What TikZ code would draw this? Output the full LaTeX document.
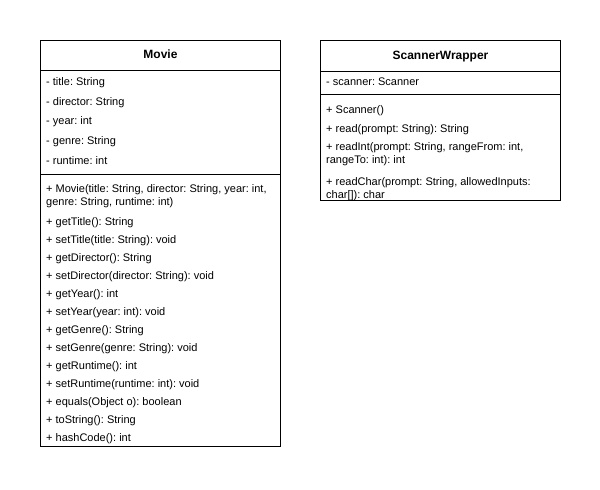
\documentclass[tikz,border=0pt]{standalone}
\usepackage{fontspec}
\setmainfont{Liberation Sans}
\frenchspacing
\begin{document}
\begin{tikzpicture}[x=1pt,y=-1pt,
  box/.style={draw=black,line width=1pt},
  sep/.style={draw=black,line width=1pt},
  member/.style={anchor=mid west,inner sep=0pt,yshift=-1.5pt,font=\fontsize{11}{13}\selectfont\frenchspacing},
  title/.style={anchor=mid,inner sep=0pt,yshift=-1pt,font=\fontsize{12}{14}\selectfont\bfseries}]
\useasboundingbox[fill=white] (0,0) rectangle (600,490);
% Movie
\draw[box] (40.5,40.5) rectangle (280.5,446.5);
\draw[sep] (40.5,70.5) -- (280.5,70.5);
\draw[sep] (40.5,174.5) -- (280.5,174.5);
\node[title] (mt) at (160.5,55) {Movie};
\node[member] (a1) at (46,81) {- title: String};
\node[member] (a2) at (46,101) {- director: String};
\node[member] (a3) at (46,120.5) {- year: int};
\node[member] (a4) at (46,140.5) {- genre: String};
\node[member] (a5) at (46,160.5) {- runtime: int};
\node[member] (m1) at (46,188) {+ Movie(title: String, director: String, year: int,};
\node[member] (m1b) at (46,201.5) {genre: String, runtime: int)};
\node[member] (m2) at (46,221) {+ getTitle(): String};
\node[member] (m3) at (46,239) {+ setTitle(title: String): void};
\node[member] (m4) at (46,257) {+ getDirector(): String};
\node[member] (m5) at (46,275) {+ setDirector(director: String): void};
\node[member] (m6) at (46,293) {+ getYear(): int};
\node[member] (m7) at (46,311.5) {+ setYear(year: int): void};
\node[member] (m8) at (46,329.5) {+ getGenre(): String};
\node[member] (m9) at (46,347.5) {+ setGenre(genre: String): void};
\node[member] (m10) at (46,365.5) {+ getRuntime(): int};
\node[member] (m11) at (46,383.5) {+ setRuntime(runtime: int): void};
\node[member] (m12) at (46,401.5) {+ equals(Object o): boolean};
\node[member] (m13) at (46,419.5) {+ toString(): String};
\node[member] (m14) at (46,437.5) {+ hashCode(): int};
% ScannerWrapper
\draw[box] (320.5,40.5) rectangle (560.5,200.5);
\draw[sep] (320.5,71) -- (560.5,71);
\draw[sep] (320.5,94.5) -- (560.5,94.5);
\node[title] (st) at (440.5,55.5) {ScannerWrapper};
\node[member] (s1) at (326,81) {- scanner: Scanner};
\node[member] (s2) at (326,109.5) {+ Scanner()};
\node[member] (s3) at (326,128.5) {+ read(prompt: String): String};
\node[member] (s4) at (326,146) {+ readInt(prompt: String, rangeFrom: int,};
\node[member] (s4b) at (326,159.3) {rangeTo: int): int};
\node[member] (s5) at (326,181) {+ readChar(prompt: String, allowedInputs:};
\node[member] (s5b) at (326,194.2) {char[]): char};
\end{tikzpicture}
\end{document}
